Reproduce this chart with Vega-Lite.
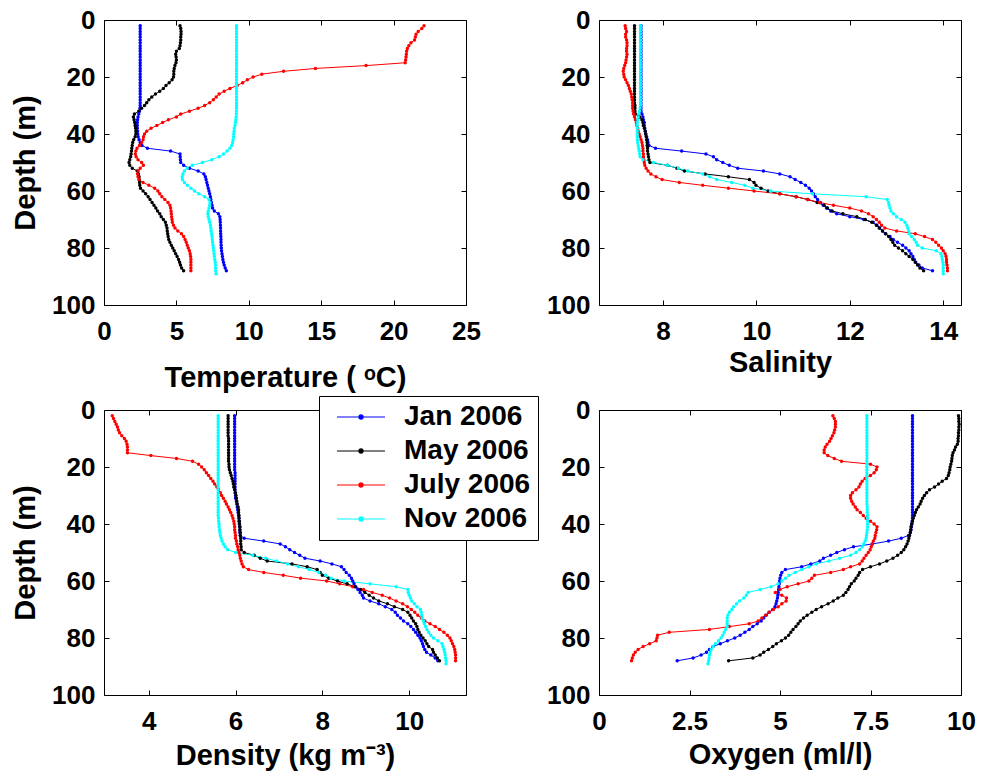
{
"$schema":"https://vega.github.io/schema/vega-lite/v6.json",
"background":"white",
"padding":{"left":11,"top":6,"right":5,"bottom":3},
"data":{"values":[
{"m":"Jan 2006","d":2,"T":2.5,"S":7.53,"D":5.98,"O":8.66},
{"m":"Jan 2006","d":3,"T":2.5,"S":7.53,"D":5.98,"O":8.66},
{"m":"Jan 2006","d":4,"T":2.5,"S":7.53,"D":5.98,"O":8.66},
{"m":"Jan 2006","d":5,"T":2.5,"S":7.53,"D":5.98,"O":8.66},
{"m":"Jan 2006","d":6,"T":2.5,"S":7.53,"D":5.98,"O":8.66},
{"m":"Jan 2006","d":7,"T":2.5,"S":7.53,"D":5.98,"O":8.66},
{"m":"Jan 2006","d":8,"T":2.5,"S":7.53,"D":5.98,"O":8.66},
{"m":"Jan 2006","d":9,"T":2.5,"S":7.53,"D":5.98,"O":8.66},
{"m":"Jan 2006","d":10,"T":2.5,"S":7.53,"D":5.98,"O":8.66},
{"m":"Jan 2006","d":11,"T":2.5,"S":7.53,"D":5.98,"O":8.66},
{"m":"Jan 2006","d":12,"T":2.5,"S":7.53,"D":5.98,"O":8.66},
{"m":"Jan 2006","d":13,"T":2.5,"S":7.53,"D":5.98,"O":8.66},
{"m":"Jan 2006","d":14,"T":2.5,"S":7.53,"D":5.98,"O":8.66},
{"m":"Jan 2006","d":15,"T":2.5,"S":7.53,"D":5.98,"O":8.66},
{"m":"Jan 2006","d":16,"T":2.5,"S":7.53,"D":5.98,"O":8.66},
{"m":"Jan 2006","d":17,"T":2.5,"S":7.53,"D":5.98,"O":8.66},
{"m":"Jan 2006","d":18,"T":2.5,"S":7.53,"D":5.98,"O":8.66},
{"m":"Jan 2006","d":19,"T":2.5,"S":7.53,"D":5.98,"O":8.66},
{"m":"Jan 2006","d":20,"T":2.5,"S":7.53,"D":5.98,"O":8.66},
{"m":"Jan 2006","d":21,"T":2.5,"S":7.53,"D":5.98,"O":8.66},
{"m":"Jan 2006","d":22,"T":2.5,"S":7.53,"D":5.99,"O":8.66},
{"m":"Jan 2006","d":23,"T":2.5,"S":7.53,"D":5.99,"O":8.66},
{"m":"Jan 2006","d":24,"T":2.5,"S":7.53,"D":5.99,"O":8.66},
{"m":"Jan 2006","d":25,"T":2.5,"S":7.53,"D":5.99,"O":8.66},
{"m":"Jan 2006","d":26,"T":2.5,"S":7.53,"D":5.99,"O":8.66},
{"m":"Jan 2006","d":27,"T":2.5,"S":7.53,"D":5.99,"O":8.66},
{"m":"Jan 2006","d":28,"T":2.5,"S":7.53,"D":5.99,"O":8.66},
{"m":"Jan 2006","d":29,"T":2.5,"S":7.53,"D":5.99,"O":8.66},
{"m":"Jan 2006","d":30,"T":2.5,"S":7.53,"D":6.0,"O":8.66},
{"m":"Jan 2006","d":31,"T":2.48,"S":7.53,"D":6.0,"O":8.66},
{"m":"Jan 2006","d":32,"T":2.45,"S":7.53,"D":6.02,"O":8.66},
{"m":"Jan 2006","d":33,"T":2.4,"S":7.55,"D":6.03,"O":8.66},
{"m":"Jan 2006","d":34,"T":2.35,"S":7.57,"D":6.04,"O":8.66},
{"m":"Jan 2006","d":35,"T":2.32,"S":7.58,"D":6.05,"O":8.66},
{"m":"Jan 2006","d":36,"T":2.3,"S":7.6,"D":6.06,"O":8.66},
{"m":"Jan 2006","d":37,"T":2.3,"S":7.6,"D":6.07,"O":8.66},
{"m":"Jan 2006","d":38,"T":2.3,"S":7.61,"D":6.08,"O":8.66},
{"m":"Jan 2006","d":39,"T":2.32,"S":7.62,"D":6.08,"O":8.65},
{"m":"Jan 2006","d":40,"T":2.33,"S":7.63,"D":6.09,"O":8.64},
{"m":"Jan 2006","d":41,"T":2.36,"S":7.65,"D":6.1,"O":8.63},
{"m":"Jan 2006","d":42,"T":2.42,"S":7.67,"D":6.1,"O":8.62},
{"m":"Jan 2006","d":43,"T":2.5,"S":7.68,"D":6.1,"O":8.6},
{"m":"Jan 2006","d":44,"T":2.62,"S":7.7,"D":6.11,"O":8.55},
{"m":"Jan 2006","d":45,"T":3.0,"S":7.84,"D":6.2,"O":8.35},
{"m":"Jan 2006","d":46,"T":4.6,"S":8.4,"D":6.65,"O":8.0},
{"m":"Jan 2006","d":47,"T":5.25,"S":8.92,"D":7.03,"O":7.55},
{"m":"Jan 2006","d":48,"T":5.26,"S":9.08,"D":7.15,"O":7.03},
{"m":"Jan 2006","d":49,"T":5.28,"S":9.15,"D":7.25,"O":6.78},
{"m":"Jan 2006","d":50,"T":5.3,"S":9.28,"D":7.36,"O":6.57},
{"m":"Jan 2006","d":51,"T":5.5,"S":9.42,"D":7.48,"O":6.4},
{"m":"Jan 2006","d":52,"T":5.9,"S":9.6,"D":7.6,"O":6.2},
{"m":"Jan 2006","d":53,"T":6.5,"S":10.15,"D":7.95,"O":6.1},
{"m":"Jan 2006","d":54,"T":6.9,"S":10.5,"D":8.22,"O":5.85},
{"m":"Jan 2006","d":55,"T":7.0,"S":10.72,"D":8.44,"O":5.6},
{"m":"Jan 2006","d":56,"T":7.05,"S":10.83,"D":8.5,"O":5.15},
{"m":"Jan 2006","d":57,"T":7.1,"S":10.95,"D":8.55,"O":5.05},
{"m":"Jan 2006","d":58,"T":7.15,"S":11.05,"D":8.62,"O":5.02},
{"m":"Jan 2006","d":59,"T":7.2,"S":11.13,"D":8.67,"O":5.0},
{"m":"Jan 2006","d":60,"T":7.25,"S":11.18,"D":8.7,"O":4.99},
{"m":"Jan 2006","d":61,"T":7.3,"S":11.22,"D":8.73,"O":4.98},
{"m":"Jan 2006","d":62,"T":7.35,"S":11.26,"D":8.77,"O":4.97},
{"m":"Jan 2006","d":63,"T":7.38,"S":11.31,"D":8.82,"O":4.96},
{"m":"Jan 2006","d":64,"T":7.42,"S":11.37,"D":8.87,"O":4.95},
{"m":"Jan 2006","d":65,"T":7.46,"S":11.43,"D":8.92,"O":4.94},
{"m":"Jan 2006","d":66,"T":7.5,"S":11.5,"D":8.95,"O":4.93},
{"m":"Jan 2006","d":67,"T":7.62,"S":11.59,"D":9.1,"O":4.91},
{"m":"Jan 2006","d":68,"T":7.9,"S":11.72,"D":9.3,"O":4.89},
{"m":"Jan 2006","d":69,"T":8.0,"S":12.0,"D":9.45,"O":4.86},
{"m":"Jan 2006","d":70,"T":8.02,"S":12.3,"D":9.6,"O":4.8},
{"m":"Jan 2006","d":71,"T":8.03,"S":12.5,"D":9.68,"O":4.7},
{"m":"Jan 2006","d":72,"T":8.04,"S":12.58,"D":9.73,"O":4.62},
{"m":"Jan 2006","d":73,"T":8.05,"S":12.64,"D":9.8,"O":4.55},
{"m":"Jan 2006","d":74,"T":8.05,"S":12.7,"D":9.87,"O":4.48},
{"m":"Jan 2006","d":75,"T":8.06,"S":12.76,"D":9.97,"O":4.37},
{"m":"Jan 2006","d":76,"T":8.07,"S":12.86,"D":10.04,"O":4.25},
{"m":"Jan 2006","d":77,"T":8.08,"S":12.93,"D":10.1,"O":4.15},
{"m":"Jan 2006","d":78,"T":8.08,"S":13.02,"D":10.15,"O":4.03},
{"m":"Jan 2006","d":79,"T":8.09,"S":13.13,"D":10.2,"O":3.9},
{"m":"Jan 2006","d":80,"T":8.1,"S":13.2,"D":10.25,"O":3.75},
{"m":"Jan 2006","d":81,"T":8.12,"S":13.27,"D":10.28,"O":3.55},
{"m":"Jan 2006","d":82,"T":8.15,"S":13.31,"D":10.31,"O":3.35},
{"m":"Jan 2006","d":83,"T":8.18,"S":13.35,"D":10.33,"O":3.15},
{"m":"Jan 2006","d":84,"T":8.21,"S":13.38,"D":10.36,"O":3.05},
{"m":"Jan 2006","d":85,"T":8.25,"S":13.41,"D":10.4,"O":2.97},
{"m":"Jan 2006","d":86,"T":8.3,"S":13.48,"D":10.5,"O":2.82},
{"m":"Jan 2006","d":87,"T":8.37,"S":13.55,"D":10.6,"O":2.6},
{"m":"Jan 2006","d":88,"T":8.45,"S":13.77,"D":10.66,"O":2.16},
{"m":"May 2006","d":2,"T":5.25,"S":7.39,"D":5.83,"O":9.93},
{"m":"May 2006","d":3,"T":5.3,"S":7.39,"D":5.83,"O":9.94},
{"m":"May 2006","d":4,"T":5.32,"S":7.39,"D":5.83,"O":9.94},
{"m":"May 2006","d":5,"T":5.32,"S":7.39,"D":5.83,"O":9.95},
{"m":"May 2006","d":6,"T":5.3,"S":7.39,"D":5.83,"O":9.94},
{"m":"May 2006","d":7,"T":5.3,"S":7.39,"D":5.83,"O":9.94},
{"m":"May 2006","d":8,"T":5.28,"S":7.39,"D":5.83,"O":9.93},
{"m":"May 2006","d":9,"T":5.25,"S":7.39,"D":5.83,"O":9.93},
{"m":"May 2006","d":10,"T":5.2,"S":7.39,"D":5.84,"O":9.92},
{"m":"May 2006","d":11,"T":5.0,"S":7.39,"D":5.84,"O":9.92},
{"m":"May 2006","d":12,"T":4.95,"S":7.39,"D":5.84,"O":9.9},
{"m":"May 2006","d":13,"T":4.98,"S":7.39,"D":5.84,"O":9.85},
{"m":"May 2006","d":14,"T":5.0,"S":7.39,"D":5.84,"O":9.82},
{"m":"May 2006","d":15,"T":4.97,"S":7.39,"D":5.84,"O":9.78},
{"m":"May 2006","d":16,"T":4.9,"S":7.39,"D":5.84,"O":9.76},
{"m":"May 2006","d":17,"T":4.85,"S":7.39,"D":5.84,"O":9.75},
{"m":"May 2006","d":18,"T":4.82,"S":7.39,"D":5.84,"O":9.74},
{"m":"May 2006","d":19,"T":4.82,"S":7.39,"D":5.85,"O":9.72},
{"m":"May 2006","d":20,"T":4.8,"S":7.39,"D":5.85,"O":9.7},
{"m":"May 2006","d":21,"T":4.7,"S":7.39,"D":5.86,"O":9.69},
{"m":"May 2006","d":22,"T":4.5,"S":7.39,"D":5.88,"O":9.67},
{"m":"May 2006","d":23,"T":4.28,"S":7.39,"D":5.9,"O":9.65},
{"m":"May 2006","d":24,"T":4.1,"S":7.39,"D":5.92,"O":9.6},
{"m":"May 2006","d":25,"T":3.85,"S":7.39,"D":5.94,"O":9.48},
{"m":"May 2006","d":26,"T":3.55,"S":7.39,"D":5.95,"O":9.38},
{"m":"May 2006","d":27,"T":3.3,"S":7.39,"D":5.96,"O":9.27},
{"m":"May 2006","d":28,"T":3.1,"S":7.39,"D":5.98,"O":9.13},
{"m":"May 2006","d":29,"T":2.95,"S":7.39,"D":6.0,"O":9.05},
{"m":"May 2006","d":30,"T":2.8,"S":7.4,"D":6.01,"O":8.99},
{"m":"May 2006","d":31,"T":2.6,"S":7.4,"D":6.02,"O":8.94},
{"m":"May 2006","d":32,"T":2.4,"S":7.4,"D":6.03,"O":8.9},
{"m":"May 2006","d":33,"T":2.1,"S":7.41,"D":6.04,"O":8.87},
{"m":"May 2006","d":34,"T":2.03,"S":7.5,"D":6.06,"O":8.82},
{"m":"May 2006","d":35,"T":2.08,"S":7.55,"D":6.07,"O":8.77},
{"m":"May 2006","d":36,"T":2.12,"S":7.57,"D":6.07,"O":8.74},
{"m":"May 2006","d":37,"T":2.15,"S":7.58,"D":6.08,"O":8.71},
{"m":"May 2006","d":38,"T":2.18,"S":7.6,"D":6.08,"O":8.68},
{"m":"May 2006","d":39,"T":2.2,"S":7.62,"D":6.09,"O":8.66},
{"m":"May 2006","d":40,"T":2.2,"S":7.63,"D":6.09,"O":8.64},
{"m":"May 2006","d":41,"T":2.15,"S":7.64,"D":6.1,"O":8.62},
{"m":"May 2006","d":42,"T":2.05,"S":7.65,"D":6.1,"O":8.61},
{"m":"May 2006","d":43,"T":1.98,"S":7.66,"D":6.11,"O":8.6},
{"m":"May 2006","d":44,"T":1.95,"S":7.66,"D":6.11,"O":8.58},
{"m":"May 2006","d":45,"T":1.92,"S":7.67,"D":6.12,"O":8.56},
{"m":"May 2006","d":46,"T":1.9,"S":7.67,"D":6.12,"O":8.54},
{"m":"May 2006","d":47,"T":1.87,"S":7.68,"D":6.12,"O":8.51},
{"m":"May 2006","d":48,"T":1.84,"S":7.69,"D":6.13,"O":8.47},
{"m":"May 2006","d":49,"T":1.78,"S":7.7,"D":6.13,"O":8.42},
{"m":"May 2006","d":50,"T":1.73,"S":7.72,"D":6.2,"O":8.35},
{"m":"May 2006","d":51,"T":1.78,"S":8.1,"D":6.43,"O":8.25},
{"m":"May 2006","d":52,"T":1.95,"S":8.3,"D":6.57,"O":8.12},
{"m":"May 2006","d":53,"T":2.3,"S":8.46,"D":6.73,"O":7.95},
{"m":"May 2006","d":54,"T":2.38,"S":8.9,"D":7.3,"O":7.75},
{"m":"May 2006","d":55,"T":2.42,"S":9.4,"D":7.65,"O":7.5},
{"m":"May 2006","d":56,"T":2.43,"S":9.85,"D":7.88,"O":7.28},
{"m":"May 2006","d":57,"T":2.45,"S":9.95,"D":7.95,"O":7.2},
{"m":"May 2006","d":58,"T":2.47,"S":9.99,"D":8.0,"O":7.16},
{"m":"May 2006","d":59,"T":2.52,"S":10.1,"D":8.15,"O":7.1},
{"m":"May 2006","d":60,"T":2.7,"S":10.25,"D":8.35,"O":7.05},
{"m":"May 2006","d":61,"T":2.88,"S":10.5,"D":8.57,"O":6.97},
{"m":"May 2006","d":62,"T":3.05,"S":10.85,"D":8.75,"O":6.92},
{"m":"May 2006","d":63,"T":3.18,"S":11.1,"D":8.88,"O":6.88},
{"m":"May 2006","d":64,"T":3.32,"S":11.3,"D":8.98,"O":6.82},
{"m":"May 2006","d":65,"T":3.45,"S":11.45,"D":9.08,"O":6.75},
{"m":"May 2006","d":66,"T":3.58,"S":11.52,"D":9.18,"O":6.6},
{"m":"May 2006","d":67,"T":3.7,"S":11.62,"D":9.3,"O":6.47},
{"m":"May 2006","d":68,"T":3.85,"S":11.85,"D":9.5,"O":6.33},
{"m":"May 2006","d":69,"T":3.95,"S":12.15,"D":9.66,"O":6.15},
{"m":"May 2006","d":70,"T":4.1,"S":12.33,"D":9.85,"O":6.0},
{"m":"May 2006","d":71,"T":4.24,"S":12.47,"D":9.97,"O":5.88},
{"m":"May 2006","d":72,"T":4.3,"S":12.57,"D":10.02,"O":5.75},
{"m":"May 2006","d":73,"T":4.35,"S":12.63,"D":10.06,"O":5.65},
{"m":"May 2006","d":74,"T":4.37,"S":12.7,"D":10.1,"O":5.56},
{"m":"May 2006","d":75,"T":4.4,"S":12.77,"D":10.15,"O":5.5},
{"m":"May 2006","d":76,"T":4.43,"S":12.83,"D":10.18,"O":5.44},
{"m":"May 2006","d":77,"T":4.47,"S":12.88,"D":10.2,"O":5.36},
{"m":"May 2006","d":78,"T":4.55,"S":12.92,"D":10.23,"O":5.3},
{"m":"May 2006","d":79,"T":4.65,"S":12.96,"D":10.27,"O":5.24},
{"m":"May 2006","d":80,"T":4.75,"S":13.04,"D":10.32,"O":5.15},
{"m":"May 2006","d":81,"T":4.85,"S":13.13,"D":10.37,"O":5.04},
{"m":"May 2006","d":82,"T":4.95,"S":13.2,"D":10.41,"O":4.9},
{"m":"May 2006","d":83,"T":5.05,"S":13.27,"D":10.45,"O":4.8},
{"m":"May 2006","d":84,"T":5.15,"S":13.35,"D":10.54,"O":4.68},
{"m":"May 2006","d":85,"T":5.22,"S":13.4,"D":10.56,"O":4.55},
{"m":"May 2006","d":86,"T":5.28,"S":13.45,"D":10.6,"O":4.45},
{"m":"May 2006","d":87,"T":5.36,"S":13.5,"D":10.65,"O":4.25},
{"m":"May 2006","d":88,"T":5.5,"S":13.58,"D":10.7,"O":3.58},
{"m":"July 2006","d":2,"T":22.1,"S":7.19,"D":3.16,"O":6.46},
{"m":"July 2006","d":3,"T":21.95,"S":7.2,"D":3.19,"O":6.5},
{"m":"July 2006","d":4,"T":21.7,"S":7.22,"D":3.22,"O":6.53},
{"m":"July 2006","d":5,"T":21.55,"S":7.2,"D":3.25,"O":6.53},
{"m":"July 2006","d":6,"T":21.5,"S":7.2,"D":3.28,"O":6.53},
{"m":"July 2006","d":7,"T":21.45,"S":7.22,"D":3.3,"O":6.51},
{"m":"July 2006","d":8,"T":21.2,"S":7.23,"D":3.33,"O":6.49},
{"m":"July 2006","d":9,"T":21.05,"S":7.23,"D":3.38,"O":6.45},
{"m":"July 2006","d":10,"T":20.95,"S":7.22,"D":3.44,"O":6.41},
{"m":"July 2006","d":11,"T":20.9,"S":7.22,"D":3.48,"O":6.37},
{"m":"July 2006","d":12,"T":20.88,"S":7.23,"D":3.5,"O":6.3},
{"m":"July 2006","d":13,"T":20.86,"S":7.22,"D":3.51,"O":6.25},
{"m":"July 2006","d":14,"T":20.83,"S":7.21,"D":3.51,"O":6.22},
{"m":"July 2006","d":15,"T":20.8,"S":7.2,"D":3.51,"O":6.22},
{"m":"July 2006","d":16,"T":18.1,"S":7.18,"D":4.05,"O":6.32},
{"m":"July 2006","d":17,"T":14.6,"S":7.16,"D":4.64,"O":6.5},
{"m":"July 2006","d":18,"T":12.4,"S":7.15,"D":5.01,"O":6.7},
{"m":"July 2006","d":19,"T":10.9,"S":7.16,"D":5.15,"O":7.5},
{"m":"July 2006","d":20,"T":10.3,"S":7.17,"D":5.22,"O":7.68},
{"m":"July 2006","d":21,"T":9.9,"S":7.2,"D":5.28,"O":7.66},
{"m":"July 2006","d":22,"T":9.58,"S":7.23,"D":5.33,"O":7.6},
{"m":"July 2006","d":23,"T":9.2,"S":7.26,"D":5.38,"O":7.5},
{"m":"July 2006","d":24,"T":8.7,"S":7.28,"D":5.43,"O":7.35},
{"m":"July 2006","d":25,"T":8.3,"S":7.3,"D":5.48,"O":7.27},
{"m":"July 2006","d":26,"T":7.95,"S":7.32,"D":5.52,"O":7.22},
{"m":"July 2006","d":27,"T":7.75,"S":7.33,"D":5.57,"O":7.18},
{"m":"July 2006","d":28,"T":7.55,"S":7.34,"D":5.61,"O":7.1},
{"m":"July 2006","d":29,"T":7.3,"S":7.35,"D":5.65,"O":7.0},
{"m":"July 2006","d":30,"T":6.95,"S":7.35,"D":5.68,"O":6.95},
{"m":"July 2006","d":31,"T":6.5,"S":7.35,"D":5.72,"O":6.95},
{"m":"July 2006","d":32,"T":5.9,"S":7.36,"D":5.76,"O":6.98},
{"m":"July 2006","d":33,"T":5.3,"S":7.37,"D":5.79,"O":7.02},
{"m":"July 2006","d":34,"T":5.0,"S":7.39,"D":5.83,"O":7.08},
{"m":"July 2006","d":35,"T":4.45,"S":7.41,"D":5.86,"O":7.13},
{"m":"July 2006","d":36,"T":4.05,"S":7.43,"D":5.89,"O":7.22},
{"m":"July 2006","d":37,"T":3.65,"S":7.44,"D":5.92,"O":7.3},
{"m":"July 2006","d":38,"T":3.25,"S":7.46,"D":5.94,"O":7.38},
{"m":"July 2006","d":39,"T":2.95,"S":7.47,"D":5.96,"O":7.5},
{"m":"July 2006","d":40,"T":2.8,"S":7.49,"D":5.97,"O":7.6},
{"m":"July 2006","d":41,"T":2.73,"S":7.51,"D":5.98,"O":7.68},
{"m":"July 2006","d":42,"T":2.7,"S":7.53,"D":5.98,"O":7.67},
{"m":"July 2006","d":43,"T":2.6,"S":7.55,"D":5.99,"O":7.65},
{"m":"July 2006","d":44,"T":2.45,"S":7.56,"D":6.0,"O":7.63},
{"m":"July 2006","d":45,"T":2.28,"S":7.57,"D":6.0,"O":7.62},
{"m":"July 2006","d":46,"T":2.2,"S":7.57,"D":6.02,"O":7.58},
{"m":"July 2006","d":47,"T":2.16,"S":7.58,"D":6.03,"O":7.55},
{"m":"July 2006","d":48,"T":2.22,"S":7.58,"D":6.05,"O":7.52},
{"m":"July 2006","d":49,"T":2.35,"S":7.59,"D":6.06,"O":7.49},
{"m":"July 2006","d":50,"T":2.6,"S":7.6,"D":6.08,"O":7.44},
{"m":"July 2006","d":51,"T":2.72,"S":7.61,"D":6.1,"O":7.38},
{"m":"July 2006","d":52,"T":2.5,"S":7.64,"D":6.11,"O":7.32},
{"m":"July 2006","d":53,"T":2.36,"S":7.68,"D":6.13,"O":7.27},
{"m":"July 2006","d":54,"T":2.32,"S":7.74,"D":6.15,"O":7.2},
{"m":"July 2006","d":55,"T":2.35,"S":7.85,"D":6.18,"O":6.95},
{"m":"July 2006","d":56,"T":2.42,"S":7.98,"D":6.3,"O":6.75},
{"m":"July 2006","d":57,"T":2.7,"S":8.35,"D":6.65,"O":6.4},
{"m":"July 2006","d":58,"T":3.1,"S":8.85,"D":7.1,"O":5.95},
{"m":"July 2006","d":59,"T":3.5,"S":9.4,"D":7.5,"O":5.88},
{"m":"July 2006","d":60,"T":3.72,"S":9.95,"D":8.1,"O":5.8},
{"m":"July 2006","d":61,"T":3.85,"S":10.5,"D":8.4,"O":5.5},
{"m":"July 2006","d":62,"T":4.0,"S":10.85,"D":8.7,"O":5.2},
{"m":"July 2006","d":63,"T":4.2,"S":11.1,"D":8.95,"O":5.0},
{"m":"July 2006","d":64,"T":4.42,"S":11.35,"D":9.15,"O":4.87},
{"m":"July 2006","d":65,"T":4.55,"S":11.65,"D":9.38,"O":5.05},
{"m":"July 2006","d":66,"T":4.6,"S":12.0,"D":9.55,"O":5.18},
{"m":"July 2006","d":67,"T":4.63,"S":12.25,"D":9.7,"O":5.17},
{"m":"July 2006","d":68,"T":4.65,"S":12.4,"D":9.85,"O":5.05},
{"m":"July 2006","d":69,"T":4.67,"S":12.5,"D":9.96,"O":4.95},
{"m":"July 2006","d":70,"T":4.7,"S":12.57,"D":10.05,"O":4.82},
{"m":"July 2006","d":71,"T":4.72,"S":12.63,"D":10.13,"O":4.7},
{"m":"July 2006","d":72,"T":4.8,"S":12.68,"D":10.2,"O":4.6},
{"m":"July 2006","d":73,"T":4.9,"S":12.75,"D":10.28,"O":4.5},
{"m":"July 2006","d":74,"T":5.1,"S":13.0,"D":10.36,"O":4.4},
{"m":"July 2006","d":75,"T":5.35,"S":13.4,"D":10.48,"O":4.15},
{"m":"July 2006","d":76,"T":5.5,"S":13.6,"D":10.6,"O":3.6},
{"m":"July 2006","d":77,"T":5.6,"S":13.77,"D":10.7,"O":3.05},
{"m":"July 2006","d":78,"T":5.68,"S":13.84,"D":10.8,"O":1.94},
{"m":"July 2006","d":79,"T":5.75,"S":13.9,"D":10.88,"O":1.62},
{"m":"July 2006","d":80,"T":5.82,"S":13.96,"D":10.94,"O":1.6},
{"m":"July 2006","d":81,"T":5.9,"S":14.0,"D":10.97,"O":1.58},
{"m":"July 2006","d":82,"T":5.95,"S":14.04,"D":11.0,"O":1.4},
{"m":"July 2006","d":83,"T":5.98,"S":14.06,"D":11.03,"O":1.22},
{"m":"July 2006","d":84,"T":6.0,"S":14.07,"D":11.05,"O":1.08},
{"m":"July 2006","d":85,"T":6.0,"S":14.07,"D":11.06,"O":1.0},
{"m":"July 2006","d":86,"T":6.0,"S":14.08,"D":11.07,"O":0.95},
{"m":"July 2006","d":87,"T":6.0,"S":14.09,"D":11.07,"O":0.92},
{"m":"July 2006","d":88,"T":6.0,"S":14.09,"D":11.07,"O":0.9},
{"m":"Nov 2006","d":2,"T":9.15,"S":7.52,"D":5.6,"O":7.4},
{"m":"Nov 2006","d":3,"T":9.15,"S":7.52,"D":5.6,"O":7.4},
{"m":"Nov 2006","d":4,"T":9.15,"S":7.52,"D":5.6,"O":7.4},
{"m":"Nov 2006","d":5,"T":9.15,"S":7.52,"D":5.6,"O":7.4},
{"m":"Nov 2006","d":6,"T":9.15,"S":7.52,"D":5.6,"O":7.4},
{"m":"Nov 2006","d":7,"T":9.15,"S":7.52,"D":5.6,"O":7.4},
{"m":"Nov 2006","d":8,"T":9.15,"S":7.52,"D":5.6,"O":7.4},
{"m":"Nov 2006","d":9,"T":9.15,"S":7.52,"D":5.6,"O":7.4},
{"m":"Nov 2006","d":10,"T":9.15,"S":7.52,"D":5.6,"O":7.4},
{"m":"Nov 2006","d":11,"T":9.15,"S":7.52,"D":5.6,"O":7.4},
{"m":"Nov 2006","d":12,"T":9.15,"S":7.52,"D":5.6,"O":7.4},
{"m":"Nov 2006","d":13,"T":9.15,"S":7.52,"D":5.6,"O":7.4},
{"m":"Nov 2006","d":14,"T":9.15,"S":7.52,"D":5.6,"O":7.4},
{"m":"Nov 2006","d":15,"T":9.15,"S":7.52,"D":5.6,"O":7.4},
{"m":"Nov 2006","d":16,"T":9.15,"S":7.52,"D":5.6,"O":7.4},
{"m":"Nov 2006","d":17,"T":9.15,"S":7.52,"D":5.6,"O":7.4},
{"m":"Nov 2006","d":18,"T":9.15,"S":7.52,"D":5.6,"O":7.4},
{"m":"Nov 2006","d":19,"T":9.15,"S":7.52,"D":5.6,"O":7.4},
{"m":"Nov 2006","d":20,"T":9.15,"S":7.52,"D":5.6,"O":7.4},
{"m":"Nov 2006","d":21,"T":9.15,"S":7.52,"D":5.6,"O":7.4},
{"m":"Nov 2006","d":22,"T":9.15,"S":7.52,"D":5.6,"O":7.4},
{"m":"Nov 2006","d":23,"T":9.15,"S":7.52,"D":5.6,"O":7.4},
{"m":"Nov 2006","d":24,"T":9.15,"S":7.52,"D":5.6,"O":7.4},
{"m":"Nov 2006","d":25,"T":9.15,"S":7.52,"D":5.6,"O":7.4},
{"m":"Nov 2006","d":26,"T":9.15,"S":7.52,"D":5.6,"O":7.4},
{"m":"Nov 2006","d":27,"T":9.15,"S":7.52,"D":5.6,"O":7.4},
{"m":"Nov 2006","d":28,"T":9.15,"S":7.52,"D":5.6,"O":7.4},
{"m":"Nov 2006","d":29,"T":9.15,"S":7.52,"D":5.6,"O":7.4},
{"m":"Nov 2006","d":30,"T":9.15,"S":7.52,"D":5.6,"O":7.4},
{"m":"Nov 2006","d":31,"T":9.15,"S":7.51,"D":5.6,"O":7.4},
{"m":"Nov 2006","d":32,"T":9.14,"S":7.5,"D":5.6,"O":7.4},
{"m":"Nov 2006","d":33,"T":9.14,"S":7.48,"D":5.6,"O":7.4},
{"m":"Nov 2006","d":34,"T":9.13,"S":7.47,"D":5.6,"O":7.41},
{"m":"Nov 2006","d":35,"T":9.1,"S":7.46,"D":5.6,"O":7.41},
{"m":"Nov 2006","d":36,"T":9.08,"S":7.45,"D":5.6,"O":7.41},
{"m":"Nov 2006","d":37,"T":9.05,"S":7.45,"D":5.6,"O":7.42},
{"m":"Nov 2006","d":38,"T":9.0,"S":7.45,"D":5.61,"O":7.42},
{"m":"Nov 2006","d":39,"T":8.98,"S":7.45,"D":5.61,"O":7.42},
{"m":"Nov 2006","d":40,"T":8.96,"S":7.45,"D":5.62,"O":7.42},
{"m":"Nov 2006","d":41,"T":8.95,"S":7.45,"D":5.62,"O":7.42},
{"m":"Nov 2006","d":42,"T":8.92,"S":7.45,"D":5.63,"O":7.41},
{"m":"Nov 2006","d":43,"T":8.88,"S":7.46,"D":5.64,"O":7.4},
{"m":"Nov 2006","d":44,"T":8.82,"S":7.47,"D":5.65,"O":7.39},
{"m":"Nov 2006","d":45,"T":8.7,"S":7.48,"D":5.67,"O":7.38},
{"m":"Nov 2006","d":46,"T":8.5,"S":7.49,"D":5.69,"O":7.35},
{"m":"Nov 2006","d":47,"T":8.25,"S":7.5,"D":5.72,"O":7.31},
{"m":"Nov 2006","d":48,"T":7.95,"S":7.51,"D":5.76,"O":7.27},
{"m":"Nov 2006","d":49,"T":7.45,"S":7.57,"D":5.82,"O":7.2},
{"m":"Nov 2006","d":50,"T":6.8,"S":7.8,"D":6.0,"O":7.1},
{"m":"Nov 2006","d":51,"T":6.1,"S":8.1,"D":6.4,"O":6.95},
{"m":"Nov 2006","d":52,"T":5.75,"S":8.33,"D":6.7,"O":6.65},
{"m":"Nov 2006","d":53,"T":5.55,"S":8.53,"D":6.95,"O":6.35},
{"m":"Nov 2006","d":54,"T":5.45,"S":8.85,"D":7.2,"O":6.0},
{"m":"Nov 2006","d":55,"T":5.4,"S":9.0,"D":7.45,"O":5.8},
{"m":"Nov 2006","d":56,"T":5.42,"S":9.15,"D":7.7,"O":5.6},
{"m":"Nov 2006","d":57,"T":5.55,"S":9.47,"D":7.92,"O":5.42},
{"m":"Nov 2006","d":58,"T":5.75,"S":9.75,"D":8.08,"O":5.25},
{"m":"Nov 2006","d":59,"T":6.0,"S":9.92,"D":8.2,"O":5.15},
{"m":"Nov 2006","d":60,"T":6.25,"S":10.3,"D":8.5,"O":5.05},
{"m":"Nov 2006","d":61,"T":6.55,"S":11.2,"D":9.1,"O":4.95},
{"m":"Nov 2006","d":62,"T":6.95,"S":12.35,"D":9.7,"O":4.75},
{"m":"Nov 2006","d":63,"T":7.25,"S":12.8,"D":9.97,"O":4.45},
{"m":"Nov 2006","d":64,"T":7.32,"S":12.83,"D":9.98,"O":4.12},
{"m":"Nov 2006","d":65,"T":7.3,"S":12.84,"D":10.0,"O":4.07},
{"m":"Nov 2006","d":66,"T":7.25,"S":12.86,"D":10.03,"O":4.0},
{"m":"Nov 2006","d":67,"T":7.2,"S":12.88,"D":10.06,"O":3.88},
{"m":"Nov 2006","d":68,"T":7.17,"S":12.93,"D":10.12,"O":3.8},
{"m":"Nov 2006","d":69,"T":7.2,"S":13.0,"D":10.18,"O":3.72},
{"m":"Nov 2006","d":70,"T":7.25,"S":13.1,"D":10.26,"O":3.67},
{"m":"Nov 2006","d":71,"T":7.3,"S":13.18,"D":10.28,"O":3.6},
{"m":"Nov 2006","d":72,"T":7.35,"S":13.22,"D":10.29,"O":3.56},
{"m":"Nov 2006","d":73,"T":7.38,"S":13.24,"D":10.3,"O":3.54},
{"m":"Nov 2006","d":74,"T":7.4,"S":13.26,"D":10.33,"O":3.54},
{"m":"Nov 2006","d":75,"T":7.43,"S":13.27,"D":10.35,"O":3.54},
{"m":"Nov 2006","d":76,"T":7.46,"S":13.32,"D":10.38,"O":3.54},
{"m":"Nov 2006","d":77,"T":7.48,"S":13.38,"D":10.41,"O":3.5},
{"m":"Nov 2006","d":78,"T":7.5,"S":13.42,"D":10.45,"O":3.46},
{"m":"Nov 2006","d":79,"T":7.52,"S":13.45,"D":10.5,"O":3.42},
{"m":"Nov 2006","d":80,"T":7.55,"S":13.55,"D":10.56,"O":3.37},
{"m":"Nov 2006","d":81,"T":7.58,"S":13.85,"D":10.66,"O":3.3},
{"m":"Nov 2006","d":82,"T":7.6,"S":13.95,"D":10.76,"O":3.22},
{"m":"Nov 2006","d":83,"T":7.62,"S":13.97,"D":10.78,"O":3.15},
{"m":"Nov 2006","d":84,"T":7.65,"S":13.98,"D":10.8,"O":3.1},
{"m":"Nov 2006","d":85,"T":7.68,"S":13.99,"D":10.82,"O":3.07},
{"m":"Nov 2006","d":86,"T":7.7,"S":14.0,"D":10.83,"O":3.05},
{"m":"Nov 2006","d":87,"T":7.71,"S":14.0,"D":10.84,"O":3.04},
{"m":"Nov 2006","d":88,"T":7.72,"S":14.0,"D":10.85,"O":3.03},
{"m":"Nov 2006","d":89,"T":7.73,"S":14.0,"D":10.85,"O":3.01}
]},
"columns":2,
"spacing":{"row":105,"column":133},
"bounds":"flush",
"concat":[
{"width":362,"height":285,
 "layer":[
  {"mark":{"type":"line","strokeWidth":1,"point":{"filled":true,"size":12}},
   "encoding":{
    "x":{"field":"T","type":"quantitative","scale":{"domain":[0,25],"nice":false,"zero":false},"axis":{"values":[0,5,10,15,20,25],"title":"Temperature ( ᵒC)","titlePadding":19}},
    "y":{"field":"d","type":"quantitative","scale":{"domain":[0,100],"nice":false,"reverse":true},"axis":{"values":[0,20,40,60,80,100],"title":"Depth (m)"}},
    "color":{"field":"m","type":"nominal","scale":{"domain":["Jan 2006","May 2006","July 2006","Nov 2006"],"range":["#0000ff","#000000","#ff0000","#00ffff"]},"legend":{"orient":"none","legendX":215,"legendY":376,"title":null}},
    "order":{"field":"d","type":"quantitative"}}},
  {"transform":[{"filter":"datum.d == 2"}],
   "mark":{"type":"point","opacity":0},
   "encoding":{
    "x":{"field":"T","type":"quantitative","scale":{"domain":[0,25],"nice":false,"zero":false},"axis":{"orient":"top","labels":false,"title":null,"values":[0,5,10,15,20,25]}},
    "y":{"field":"d","type":"quantitative","scale":{"domain":[0,100],"nice":false,"reverse":true},"axis":{"orient":"right","labels":false,"title":null,"values":[0,20,40,60,80,100]}}}}
 ],
 "resolve":{"axis":{"x":"independent","y":"independent"}}},
{"width":362,"height":285,
 "layer":[
  {"mark":{"type":"line","strokeWidth":1,"point":{"filled":true,"size":12}},
   "encoding":{
    "x":{"field":"S","type":"quantitative","scale":{"domain":[6.63,14.38],"nice":false,"zero":false},"axis":{"values":[8,10,12,14],"title":"Salinity","titlePadding":4}},
    "y":{"field":"d","type":"quantitative","scale":{"domain":[0,100],"nice":false,"reverse":true},"axis":{"values":[0,20,40,60,80,100],"title":null}},
    "color":{"field":"m","type":"nominal","scale":{"domain":["Jan 2006","May 2006","July 2006","Nov 2006"],"range":["#0000ff","#000000","#ff0000","#00ffff"]},"legend":{"orient":"none","legendX":215,"legendY":376,"title":null}},
    "order":{"field":"d","type":"quantitative"}}},
  {"transform":[{"filter":"datum.d == 2"}],
   "mark":{"type":"point","opacity":0},
   "encoding":{
    "x":{"field":"S","type":"quantitative","scale":{"domain":[6.63,14.38],"nice":false,"zero":false},"axis":{"orient":"top","labels":false,"title":null,"values":[8,10,12,14]}},
    "y":{"field":"d","type":"quantitative","scale":{"domain":[0,100],"nice":false,"reverse":true},"axis":{"orient":"right","labels":false,"title":null,"values":[0,20,40,60,80,100]}}}}
 ],
 "resolve":{"axis":{"x":"independent","y":"independent"}}},
{"width":362,"height":285,
 "layer":[
  {"mark":{"type":"line","strokeWidth":1,"point":{"filled":true,"size":12}},
   "encoding":{
    "x":{"field":"D","type":"quantitative","scale":{"domain":[2.97,11.31],"nice":false,"zero":false},"axis":{"values":[4,6,8,10],"title":"Density (kg m⁻³)","titlePadding":7}},
    "y":{"field":"d","type":"quantitative","scale":{"domain":[0,100],"nice":false,"reverse":true},"axis":{"values":[0,20,40,60,80,100],"title":"Depth (m)"}},
    "color":{"field":"m","type":"nominal","scale":{"domain":["Jan 2006","May 2006","July 2006","Nov 2006"],"range":["#0000ff","#000000","#ff0000","#00ffff"]},"legend":{"orient":"none","legendX":215,"legendY":376,"title":null}},
    "order":{"field":"d","type":"quantitative"}}},
  {"transform":[{"filter":"datum.d == 2"}],
   "mark":{"type":"point","opacity":0},
   "encoding":{
    "x":{"field":"D","type":"quantitative","scale":{"domain":[2.97,11.31],"nice":false,"zero":false},"axis":{"orient":"top","labels":false,"title":null,"values":[4,6,8,10]}},
    "y":{"field":"d","type":"quantitative","scale":{"domain":[0,100],"nice":false,"reverse":true},"axis":{"orient":"right","labels":false,"title":null,"values":[0,20,40,60,80,100]}}}}
 ],
 "resolve":{"axis":{"x":"independent","y":"independent"}}},
{"width":362,"height":285,
 "layer":[
  {"mark":{"type":"line","strokeWidth":1,"point":{"filled":true,"size":12}},
   "encoding":{
    "x":{"field":"O","type":"quantitative","scale":{"domain":[0,10],"nice":false,"zero":false},"axis":{"values":[0,2.5,5,7.5,10],"format":".1~f","title":"Oxygen (ml/l)","titlePadding":6}},
    "y":{"field":"d","type":"quantitative","scale":{"domain":[0,100],"nice":false,"reverse":true},"axis":{"values":[0,20,40,60,80,100],"title":null}},
    "color":{"field":"m","type":"nominal","scale":{"domain":["Jan 2006","May 2006","July 2006","Nov 2006"],"range":["#0000ff","#000000","#ff0000","#00ffff"]},"legend":{"orient":"none","legendX":215,"legendY":376,"title":null}},
    "order":{"field":"d","type":"quantitative"}}},
  {"transform":[{"filter":"datum.d == 2"}],
   "mark":{"type":"point","opacity":0},
   "encoding":{
    "x":{"field":"O","type":"quantitative","scale":{"domain":[0,10],"nice":false,"zero":false},"axis":{"orient":"top","labels":false,"title":null,"values":[0,2.5,5,7.5,10]}},
    "y":{"field":"d","type":"quantitative","scale":{"domain":[0,100],"nice":false,"reverse":true},"axis":{"orient":"right","labels":false,"title":null,"values":[0,20,40,60,80,100]}}}}
 ],
 "resolve":{"axis":{"x":"independent","y":"independent"}}}
],
"config":{
 "font":"Liberation Sans",
 "view":{"stroke":"black","strokeWidth":1},
 "axis":{"grid":false,"domain":false,"ticks":true,"tickColor":"black","tickSize":-5,"tickWidth":1,"labelFont":"Liberation Sans","labelFontSize":26,"labelFontWeight":"bold","labelColor":"black","labelFlush":false,"labelOverlap":false,"titleFont":"Liberation Sans","titleFontSize":29,"titleFontWeight":"bold","titleColor":"black"},
 "axisX":{"labelPadding":18},
 "axisY":{"labelPadding":14,"titlePadding":11},
 "legend":{"labelFont":"Liberation Sans","labelFontSize":28,"labelFontWeight":"bold","labelColor":"black","strokeColor":"black","fillColor":"white","padding":7,"rowPadding":6,"labelOffset":50,"symbolType":"M-0.25,0L3.75,0M1.58,0A0.17,0.17,0,1,1,1.92,0A0.17,0.17,0,1,1,1.58,0Z","symbolSize":576,"symbolStrokeWidth":1.2}
}
}
